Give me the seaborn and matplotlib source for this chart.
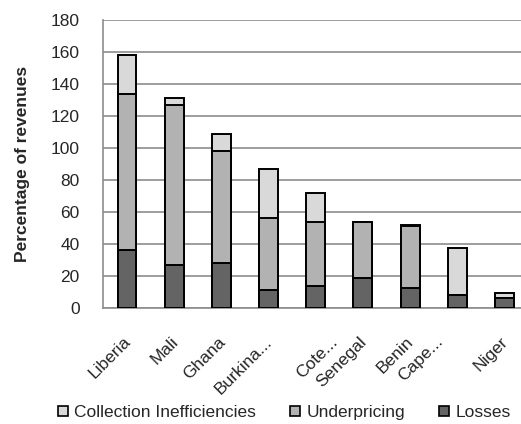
import matplotlib
matplotlib.use("Agg")
import matplotlib.pyplot as plt
import matplotlib.transforms as mtransforms
from matplotlib.lines import Line2D
import numpy as np
import pandas as pd
import seaborn as sns

countries = ["Liberia", "Mali", "Ghana", "Burkina...", "Cote...", "Senegal",
             "Benin", "Cape...", "Niger"]
losses = [36, 27, 28, 11, 14, 19, 12.5, 8, 6]
underpricing = [98, 100, 70, 45, 40, 35, 39, 0, 0]
collection = [24, 4, 11, 31, 18, 0, 0.5, 29.5, 3.6]

df = pd.DataFrame({
    "Country": countries,
    "Losses": losses,
    "Underpricing": underpricing,
    "Collection Inefficiencies": collection,
})
df["lu"] = df["Losses"] + df["Underpricing"]
df["total"] = df["lu"] + df["Collection Inefficiencies"]

sns.set_style("white")
plt.rcParams["font.family"] = ["Liberation Sans Narrow", "Liberation Sans", "DejaVu Sans"]
plt.rcParams["font.stretch"] = "condensed"

colors = {"Collection Inefficiencies": "#d9d9d9", "Underpricing": "#b2b2b2", "Losses": "#646464"}
fs = 12.5

fig = plt.figure(figsize=(5.21, 4.24), dpi=100)
ax = fig.add_axes([0.1985, 0.2736, 0.815, 0.6792])

# overlapping cumulative bars give the stacked look
for col, key in [("total", "Collection Inefficiencies"), ("lu", "Underpricing"), ("Losses", "Losses")]:
    sns.barplot(data=df, x="Country", y=col, color=colors[key], edgecolor="black",
                linewidth=1.4, width=0.4, ax=ax, zorder=3)

ax.set_ylim(0, 180)
ax.set_xlim(-0.5, len(countries) - 0.5)
ax.set_yticks(np.arange(0, 181, 20))
ax.yaxis.grid(True, color="#8c8c8c", linewidth=1.2, zorder=0)
ax.set_axisbelow(True)
for s in ["top", "right"]:
    ax.spines[s].set_visible(False)
for s in ["left", "bottom"]:
    ax.spines[s].set_color("#8c8c8c")
    ax.spines[s].set_linewidth(1.2)

# category labels drawn as rotated text (Excel nudges a couple of them)
ax.set_xticks(np.arange(len(countries)))
ax.set_xticklabels([])
ax.tick_params(axis="x", length=0)
ax.set_xticks(np.arange(len(countries) + 1) - 0.5, minor=True)
ax.tick_params(axis="x", which="minor", length=5, color="#8c8c8c", width=1.2, direction="out")
nudges = [0, 0, 0, 0, 18, 0, 0, -18, 0]
for i, (name, nx) in enumerate(zip(countries, nudges)):
    off = mtransforms.ScaledTranslation((nx - 4) / 100, -26 / 100, fig.dpi_scale_trans)
    ax.text(i, 0, name, transform=ax.get_xaxis_transform() + off, rotation=45,
            ha="right", va="top", rotation_mode="anchor", fontsize=fs)

ax.tick_params(axis="y", length=5, color="#8c8c8c", width=1.2, labelsize=fs, pad=12, direction="out")
ax.set_xlabel("")
ax.set_ylabel("Percentage of revenues", fontsize=fs, fontweight="bold", labelpad=15)

handles = [Line2D([], [], marker="s", linestyle="", markersize=7.5, markerfacecolor=colors[k],
                  markeredgecolor="black", markeredgewidth=1.2)
           for k in ["Collection Inefficiencies", "Underpricing", "Losses"]]
fig.legend(handles, ["Collection Inefficiencies", "Underpricing", "Losses"],
           loc="center", bbox_to_anchor=(0.545, 0.028), ncol=3, frameon=False,
           fontsize=fs, handletextpad=0.3, columnspacing=1.9, handlelength=0.7,
           borderaxespad=0, borderpad=0)

fig.savefig("out.png", dpi=100)
